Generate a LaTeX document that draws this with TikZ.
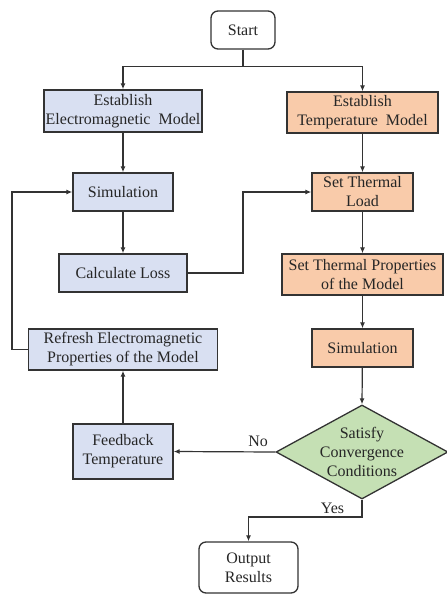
\documentclass[tikz,border=0pt]{standalone}
\usepackage{fontspec}
\setmainfont{Liberation Serif}
\newfontfamily\tms{Liberation Serif}
\usetikzlibrary{shapes.geometric,arrows.meta}
\definecolor{eblue}{HTML}{D9E0F2}
\definecolor{torange}{HTML}{F9CBAA}
\definecolor{cgreen}{HTML}{C5E0B4}
\definecolor{edge}{HTML}{333333}
\begin{document}
\begin{tikzpicture}[x=1pt,y=-1pt,
  every node/.style={font=\tms\fontsize{16}{19}\selectfont, align=center},
  base/.style={draw=edge, line width=1.3pt, inner sep=1pt, text=black!85},
  ebox/.style={base, rectangle, fill=eblue},
  tbox/.style={base, rectangle, fill=torange},
  term/.style={base, rectangle, rounded corners=7pt, fill=white},
  dec/.style={base, diamond, fill=cgreen, aspect=1.83, inner sep=-5pt},
  arr/.style={draw=edge, line width=1.2pt, -{Latex[length=6pt,width=5pt]}},
  ln/.style={draw=edge, line width=1.2pt},
  lbl/.style={text=black!85}]
\useasboundingbox (0,0) rectangle (447,595);
\node[term, minimum width=64pt, minimum height=38pt] (start) at (243,30) {Start};
\node[ebox, minimum width=158pt, minimum height=42pt] (em) at (123,111) {Establish\\Electromagnetic~ Model};
\node[tbox, minimum width=151pt, minimum height=41pt] (tm) at (362.5,112.5) {Establish\\Temperature~ Model};
\node[ebox, minimum width=100pt, minimum height=38pt] (sim1) at (123,192) {Simulation};
\node[tbox, minimum width=101pt, minimum height=38pt] (stl) at (362.5,192) {Set Thermal\\Load};
\node[ebox, minimum width=128pt, minimum height=38pt] (loss) at (123,273) {Calculate Loss};
\node[tbox, minimum width=161pt, minimum height=41pt] (stp) at (362.5,274.5) {Set Thermal Properties\\of the Model};
\node[ebox, minimum width=189pt, minimum height=41pt] (refresh) at (123,349.5) {Refresh Electromagnetic\\Properties of the Model};
\node[tbox, minimum width=101pt, minimum height=38pt] (sim2) at (362.5,348) {Simulation};
\node[dec, minimum width=172pt, minimum height=94pt] (dia) at (362,452) {Satisfy\\Convergence\\Conditions};
\node[ebox, minimum width=100pt, minimum height=55pt] (fb) at (123,451.5) {Feedback\\Temperature};
\node[term, minimum width=99pt, minimum height=51pt] (out) at (248.5,567.5) {Output\\Results};

\coordinate (split) at (243,66.5);
\coordinate (lossc) at (243,273);
\coordinate (loop) at (12,349.5);
\coordinate (yc) at (362,517);

\draw[ln] (start.south) -- (split);
\draw[arr] (split) -| (em.north);
\draw[arr] (split) -| (tm.north);
\draw[arr] (em) -- (sim1);
\draw[arr] (tm) -- (stl);
\draw[arr] (sim1) -- (loss);
\draw[arr] (stl) -- (stp);
\draw[arr] (stp) -- (sim2);
\draw[arr] (sim2) -- (dia.north);
\draw[arr] (loss.east) -- (lossc) |- (stl.west);
\draw[arr] (refresh.west) -- (loop) |- (sim1.west);
\draw[arr] (fb) -- (refresh);
\draw[arr] (dia.west) -- node[lbl, pos=0.17, above=1pt] (no) {No} (fb.east);
\draw[arr] (dia.south) -- (yc) -| node[lbl, pos=0.13, above=-1pt] (yes) {Yes} (out.north);
\end{tikzpicture}
\end{document}
